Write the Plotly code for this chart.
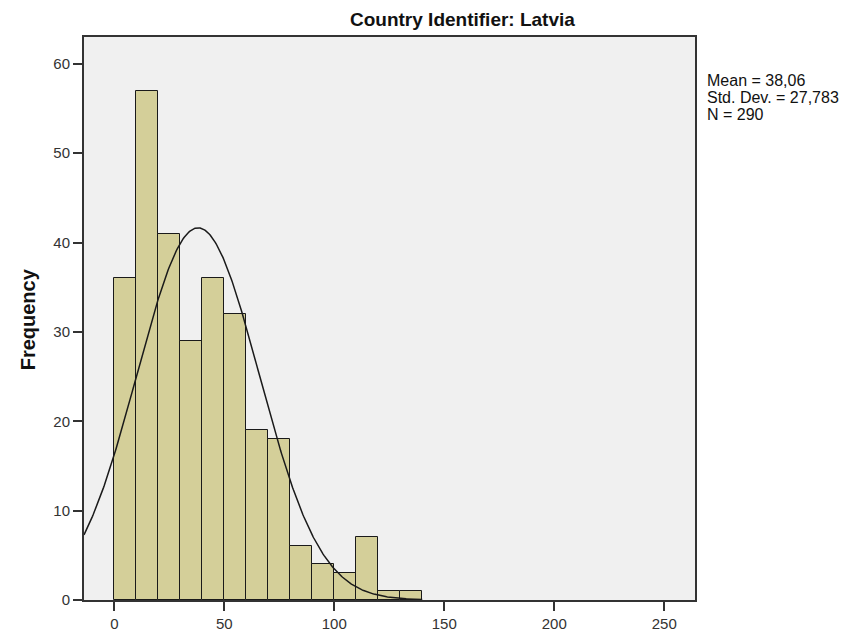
import numpy as np
import plotly.graph_objects as go

# Data
bin_starts = [0, 10, 20, 30, 40, 50, 60, 70, 80, 90, 100, 110, 120, 130]
counts = [36, 57, 41, 29, 36, 32, 19, 18, 6, 4, 3, 7, 1, 1]
bin_width = 10
mean_val = 38.06
std_val = 27.783
n_val = 290
x_ticks = [0, 50, 100, 150, 200, 250]
y_ticks = [0, 10, 20, 30, 40, 50, 60]
stats_lines = ["Mean = 38,06", "Std. Dev. = 27,783", "N = 290"]

centers = [b + bin_width / 2 for b in bin_starts]

xs = np.linspace(-13.8, 140, 400)
ys = n_val * bin_width * np.exp(-0.5 * ((xs - mean_val) / std_val) ** 2) / (std_val * np.sqrt(2 * np.pi))

fig = go.Figure()
fig.add_trace(go.Bar(
    x=centers, y=counts, width=bin_width,
    marker=dict(color="#d4cf99", line=dict(color="#1a1a1a", width=1)),
    showlegend=False, hoverinfo="x+y"
))
fig.add_trace(go.Scatter(
    x=xs, y=ys, mode="lines",
    line=dict(color="#1a1a1a", width=1.5),
    showlegend=False, hoverinfo="skip"
))

font_family = "Liberation Sans, Arial, sans-serif"

annotations = [
    dict(text="<b>Country Identifier: Latvia</b>", xref="paper", yref="paper",
         x=0.6187, y=1.0317, yanchor="middle", xanchor="center",
         showarrow=False, font=dict(size=19, color="#111111")),
    dict(text="<b>Frequency</b>", xref="paper", yref="paper",
         x=-0.0912, y=0.499, xanchor="center", yanchor="middle", textangle=-90,
         showarrow=False, font=dict(size=20, color="#111111")),
]
for line, yy in zip(stats_lines, [0.9233, 0.8924, 0.8616]):
    annotations.append(dict(text=line, xref="paper", yref="paper",
                            x=1.0164, y=yy, xanchor="left", yanchor="middle",
                            showarrow=False, font=dict(size=16, color="#111111")))

fig.update_layout(
    width=852, height=636,
    margin=dict(l=76, r=165, t=29, b=40),
    paper_bgcolor="white",
    plot_bgcolor="#f0f0f0",
    bargap=0,
    font=dict(family=font_family, size=15, color="#333333"),
    xaxis=dict(
        range=[-13.8, 264], tickvals=x_ticks, ticks="outside", ticklen=9,
        tickcolor="#333333", tickwidth=2,
        showline=True, linecolor="#333333", linewidth=2, mirror=True,
        showgrid=False, zeroline=False, tickfont=dict(size=15, color="#333333"),
    ),
    yaxis=dict(
        range=[0, 63], tickvals=y_ticks, ticks="outside", ticklen=9,
        tickcolor="#333333", tickwidth=2,
        showline=True, linecolor="#333333", linewidth=2, mirror=True,
        showgrid=False, zeroline=False, tickfont=dict(size=15, color="#333333"),
    ),
    annotations=annotations,
)

fig.write_html("out.html")
